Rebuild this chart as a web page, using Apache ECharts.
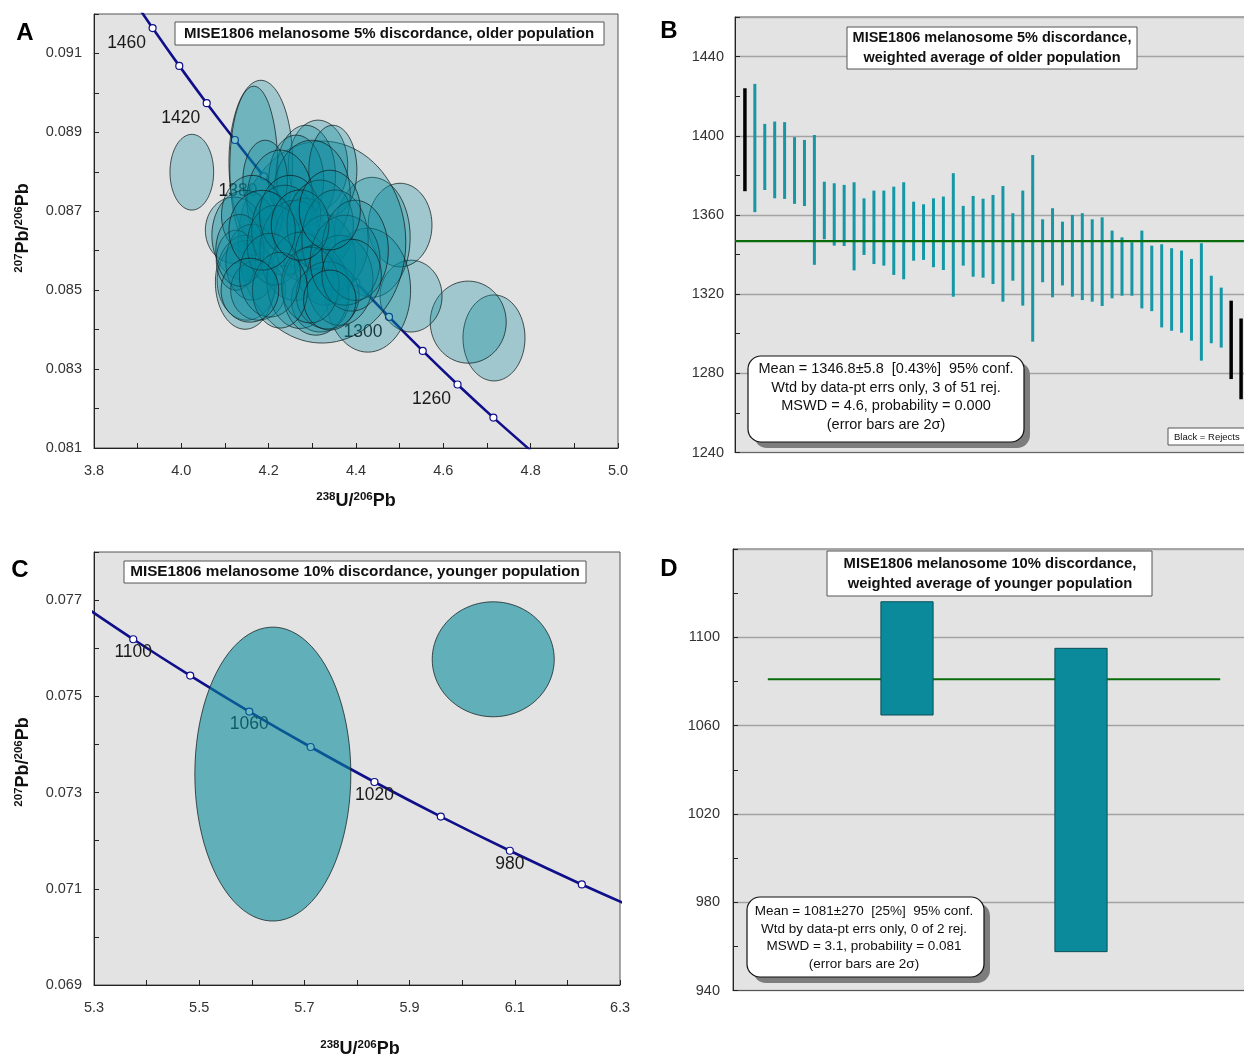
<!DOCTYPE html>
<html><head><meta charset="utf-8">
<script src="https://cdn.jsdelivr.net/npm/echarts@6/dist/echarts.min.js"></script>
<style>html,body{margin:0;padding:0;overflow:hidden;background:#fff}#c{width:1300px;height:1059px}</style>
</head><body><div id="c"></div>
<script>
// ---------- Panel A: concordia (ages, 238U/206Pb, 207Pb/206Pb) ----------
const concAAge = [1480,1460,1440,1420,1400,1380,1360,1340,1320,1300,1280,1260,1240,1220];
const concAX = [3.8748,3.9342,3.9953,4.0581,4.1227,4.1891,4.2576,4.3280,4.4007,4.4756,4.5528,4.6325,4.7147,4.7997];
const concAY = [0.092614,0.091643,0.090685,0.089740,0.088807,0.087886,0.086977,0.086080,0.085196,0.084323,0.083460,0.082609,0.081770,0.080940];
// Panel A ellipses: centre and half-axes (2 sigma)
const ellAX = [4.024,4.716,4.657,4.526,4.501,4.437,4.427,4.322,4.182,4.166,4.313,4.285,4.263,4.347,4.299,4.192,4.226,4.121,4.146,4.162,4.150,4.146,4.162,4.125,4.176,4.134,4.237,4.260,4.283,4.214,4.249,4.318,4.272,4.329,4.352,4.318,4.308,4.363,4.335,4.295,4.375,4.398,4.203,4.226,4.185,4.390,4.272,4.340,4.157,4.340];
const ellAY = [0.08799,0.08379,0.08419,0.08485,0.08665,0.08634,0.08500,0.08622,0.08824,0.08809,0.08817,0.08791,0.08779,0.08804,0.08741,0.08779,0.08728,0.08652,0.08639,0.08690,0.08525,0.08520,0.08571,0.08576,0.08500,0.08601,0.08652,0.08601,0.08627,0.08614,0.08690,0.08665,0.08525,0.08576,0.08627,0.08475,0.08500,0.08525,0.08487,0.08513,0.08576,0.08601,0.08538,0.08500,0.08652,0.08538,0.08665,0.08703,0.08500,0.08475];
const ellARx = [0.050,0.071,0.087,0.071,0.073,0.087,0.098,0.192,0.073,0.055,0.068,0.068,0.063,0.055,0.088,0.051,0.076,0.066,0.076,0.070,0.068,0.068,0.060,0.045,0.063,0.055,0.076,0.080,0.070,0.063,0.070,0.076,0.076,0.070,0.076,0.066,0.076,0.076,0.072,0.066,0.080,0.076,0.070,0.063,0.076,0.068,0.066,0.070,0.066,0.060];
const ellARy = [0.00096,0.00109,0.00104,0.00091,0.00106,0.00152,0.00157,0.00256,0.00208,0.00208,0.00114,0.00127,0.00114,0.00114,0.00139,0.00101,0.00127,0.00084,0.00114,0.00101,0.00101,0.00119,0.00096,0.00076,0.00076,0.00091,0.00114,0.00127,0.00106,0.00101,0.00101,0.00114,0.00122,0.00114,0.00127,0.00081,0.00114,0.00114,0.00085,0.00096,0.00114,0.00127,0.00106,0.00096,0.00101,0.00091,0.00089,0.00101,0.00081,0.00076];

// ---------- Panel B: weighted average, older population ----------
const bTop = [1424.0,1426.2,1406.0,1407.2,1406.9,1399.3,1397.9,1400.4,1376.8,1376.0,1375.2,1376.5,1368.4,1372.3,1372.3,1374.3,1376.5,1366.7,1365.4,1368.4,1369.3,1381.1,1364.6,1369.6,1368.2,1370.1,1374.6,1360.9,1372.3,1390.3,1357.8,1363.4,1356.6,1360.0,1360.9,1357.8,1358.8,1352.1,1348.7,1346.2,1352.1,1344.5,1345.2,1343.2,1342.0,1337.8,1345.7,1329.3,1323.3,1316.7,1307.7];
const bBot = [1372.0,1361.4,1372.6,1368.4,1368.1,1365.6,1364.5,1334.8,1347.7,1344.5,1344.3,1332.0,1339.8,1335.2,1334.4,1329.7,1327.5,1336.9,1337.3,1333.6,1332.2,1318.7,1334.4,1328.8,1328.3,1325.1,1316.2,1326.8,1314.2,1296.0,1326.0,1318.4,1324.4,1318.7,1317.0,1316.2,1314.0,1317.9,1319.2,1319.2,1312.8,1311.4,1303.2,1301.5,1300.5,1296.5,1286.4,1295.2,1293.0,1277.1,1266.9];
const bRejected = [1,50,51];
const bMean = 1346.8;

// ---------- Panel C: concordia + ellipses, younger population ----------
const concCAge = [1120,1100,1080,1060,1040,1020,1000,980,960,940];
const concCX = [5.2702,5.3746,5.4829,5.5952,5.7119,5.8332,5.9593,6.0906,6.2274,6.3700];
const concCY = [0.076954,0.076187,0.075431,0.074684,0.073947,0.073219,0.072500,0.071790,0.071090,0.070399];
const ellCX = [5.640,6.059];
const ellCY = [0.073384,0.075770];
const ellCRx = [0.1483,0.116];
const ellCRy = [0.003055,0.001195];

// ---------- Panel D: weighted average, younger population ----------
const dTop = [1116.1,1095.0];
const dBot = [1064.8,957.6];
const dMean = 1081;

const FONT = '"Liberation Sans", Arial, Helvetica, sans-serif';
const TEAL_B = '#1597a6', TEAL_D = '#0a8a9b', NAVY = '#0f0f8a', BG = '#e3e3e3';

function ellipseRender(fill){
  return function(params, api){
    const c = api.coord([api.value(0), api.value(1)]);
    const s = api.size([api.value(2), api.value(3)], [api.value(0), api.value(1)]);
    const pts = [];
    for (let i = 0; i < 90; i++) {
      const t = i / 90 * Math.PI * 2;
      pts.push([c[0] + s[0] * Math.cos(t), c[1] + s[1] * Math.sin(t)]);
    }
    return {type:'polygon', shape:{points:pts}, style:{fill:fill, stroke:'rgba(20,30,30,0.75)', lineWidth:1}};
  };
}

function concSeries(ax, ages, xs, ys, offset){
  return {
    type:'line', xAxisIndex:ax, yAxisIndex:ax, z:2, clip:true, smooth:0.3, animation:false,
    data: ages.map((a,i)=>({value:[xs[i], ys[i]], age:a, label:{show: a % 40 === 20}})),
    symbol:'circle', symbolSize:7, showSymbol:true,
    lineStyle:{color:NAVY, width:2.6},
    itemStyle:{color:'#fff', borderColor:NAVY, borderWidth:1.2},
    label:{show:true, position:'inside', offset:offset, formatter:p=>p.data.age, color:'#1a1a1a', fontSize:17.5, fontFamily:FONT},
    emphasis:{disabled:true}, silent:true
  };
}

const axisLbl = {color:'#333', fontSize:14.5, fontFamily:FONT};
const tickStyle = {inside:true, length:5, lineStyle:{color:'#222', width:1}};
const axLine = {show:true, lineStyle:{color:'#222', width:1}};

function evenTenth(v){ return Math.round(v*10) % 2 === 0 ? v.toFixed(1) : ''; }
function oddTenth(v){ return Math.round(v*10) % 2 === 1 ? v.toFixed(1) : ''; }
function oddThou(v){ return Math.round(v*1000) % 2 === 1 ? v.toFixed(3) : ''; }

const rich = {
  s:{fontSize:11.5, fontWeight:'bold', fontFamily:FONT, verticalAlign:'top', lineHeight:10, fill:'#111'},
  m:{fontSize:18, fontWeight:'bold', fontFamily:FONT, lineHeight:20, fill:'#111'}
};
function axisTitle(x, y, text, rot){
  return {type:'text', z:100, x:x, y:y, rotation:rot||0,
    style:{text:text, rich:rich, align:'center', verticalAlign:'middle'}};
}
function titleBox(x, y, w, h, lines, cx, ys, size){
  const els = [{type:'rect', z:100, shape:{x:x, y:y, width:w, height:h}, style:{fill:'#fff', stroke:'#555', lineWidth:1}}];
  lines.forEach((t,i)=>els.push({type:'text', z:101, style:{x:cx, y:ys[i], text:t, align:'center', verticalAlign:'middle', fill:'#111', font:'bold '+size+'px '+FONT}}));
  return els;
}
function statBox(x, y, w, h, lines, cx, ys, size){
  const els = [
    {type:'rect', z:100, shape:{x:x+6, y:y+6, width:w, height:h, r:13}, style:{fill:'#7d7d7d'}},
    {type:'rect', z:101, shape:{x:x, y:y, width:w, height:h, r:13}, style:{fill:'#fff', stroke:'#111', lineWidth:1.2}}
  ];
  lines.forEach((t,i)=>els.push({type:'text', z:102, style:{x:cx, y:ys[i], text:t, align:'center', verticalAlign:'middle', fill:'#111', font:size+'px '+FONT}}));
  return els;
}
function letter(x, y, t){
  return {type:'text', z:100, style:{x:x, y:y, text:t, align:'center', verticalAlign:'middle', fill:'#000', font:'bold 24px '+FONT}};
}

const gridBase = {show:true, backgroundColor:BG, borderColor:'#555', borderWidth:1, containLabel:false, outerBoundsMode:'none'};

const option = {
  animation:false,
  grid:[
    Object.assign({left:94, top:14, width:524, height:434}, gridBase),
    Object.assign({left:735, top:17, width:516, height:435.5}, gridBase),
    Object.assign({left:94, top:552, width:526, height:433}, gridBase),
    Object.assign({left:733, top:549, width:522, height:441.5}, gridBase)
  ],
  xAxis:[
    {gridIndex:0, type:'value', min:3.8, max:5.0, interval:0.1, axisLine:axLine, axisTick:tickStyle, splitLine:{show:false},
      axisLabel:Object.assign({margin:15, formatter:evenTenth, showMaxLabel:true, showMinLabel:true}, axisLbl)},
    {gridIndex:1, type:'value', min:0, max:52, axisLine:{show:true, lineStyle:{color:'#666'}}, axisTick:{show:false}, axisLabel:{show:false}, splitLine:{show:false}},
    {gridIndex:2, type:'value', min:5.3, max:6.3, interval:0.1, axisLine:axLine, axisTick:tickStyle, splitLine:{show:false},
      axisLabel:Object.assign({margin:15, formatter:oddTenth, showMaxLabel:true, showMinLabel:true}, axisLbl)},
    {gridIndex:3, type:'value', min:0, max:3, axisLine:{show:true, lineStyle:{color:'#555'}}, axisTick:{show:false}, axisLabel:{show:false}, splitLine:{show:false}}
  ],
  yAxis:[
    {gridIndex:0, type:'value', min:0.081, max:0.092, interval:0.001, axisLine:axLine, axisTick:tickStyle, splitLine:{show:false},
      axisLabel:Object.assign({margin:12, formatter:oddThou}, axisLbl)},
    {gridIndex:1, type:'value', min:1240, max:1460, interval:40, axisLine:axLine, axisTick:tickStyle,
      minorTick:{show:true, splitNumber:2, length:5, lineStyle:{color:'#222'}},
      splitLine:{show:true, lineStyle:{color:'#a3a3a3', width:1.3}},
      axisLabel:Object.assign({margin:11, formatter:v=>(v % 40 === 0 && v < 1460) ? String(v) : ''}, axisLbl)},
    {gridIndex:2, type:'value', min:0.069, max:0.078, interval:0.001, axisLine:axLine, axisTick:tickStyle, splitLine:{show:false},
      axisLabel:Object.assign({margin:12, formatter:oddThou}, axisLbl)},
    {gridIndex:3, type:'value', min:940, max:1140, interval:40, axisLine:axLine, axisTick:tickStyle,
      minorTick:{show:true, splitNumber:2, length:5, lineStyle:{color:'#222'}},
      splitLine:{show:true, lineStyle:{color:'#a3a3a3', width:1.3}},
      axisLabel:Object.assign({margin:13, formatter:v=>(v < 1140) ? String(v) : ''}, axisLbl)}
  ],
  series:[
    concSeries(0, concAAge, concAX, concAY, [-26,15]),
    {type:'custom', xAxisIndex:0, yAxisIndex:0, z:3, clip:true, silent:true,
      data: ellAX.map((x,i)=>[x, ellAY[i], ellARx[i], ellARy[i]]),
      renderItem: ellipseRender('rgba(4,137,155,0.30)')},
    {type:'custom', xAxisIndex:1, yAxisIndex:1, z:3, silent:true,
      data: bTop.map((t,i)=>[i+1, t, bBot[i], bRejected.indexOf(i+1) >= 0 ? 1 : 0]),
      renderItem:(p, api)=>{
        const a = api.coord([api.value(0), api.value(1)]);
        const b = api.coord([api.value(0), api.value(2)]);
        const rej = api.value(3) === 1;
        const w = rej ? 3.5 : 3;
        return {type:'rect', shape:{x:a[0]-w/2, y:a[1], width:w, height:b[1]-a[1]}, style:{fill: rej ? '#000' : TEAL_B}};
      }},
    {type:'line', xAxisIndex:1, yAxisIndex:1, z:4, symbol:'none', silent:true,
      data:[[0,bMean],[52,bMean]], lineStyle:{color:'#0a6b0a', width:2.2}},
    concSeries(2, concCAge, concCX, concCY, [0,13]),
    {type:'custom', xAxisIndex:2, yAxisIndex:2, z:3, clip:true, silent:true,
      data: ellCX.map((x,i)=>[x, ellCY[i], ellCRx[i], ellCRy[i]]),
      renderItem: ellipseRender('rgba(4,137,155,0.58)')},
    {type:'line', xAxisIndex:3, yAxisIndex:3, z:2, symbol:'none', silent:true,
      data:[[0.2,dMean],[2.8,dMean]], lineStyle:{color:'#0a6b0a', width:2.2}},
    {type:'custom', xAxisIndex:3, yAxisIndex:3, z:3, silent:true,
      data: dTop.map((t,i)=>[i+1, t, dBot[i]]),
      renderItem:(p, api)=>{
        const a = api.coord([api.value(0)-0.15, api.value(1)]);
        const b = api.coord([api.value(0)+0.15, api.value(2)]);
        return {type:'rect', shape:{x:a[0], y:a[1], width:b[0]-a[0], height:b[1]-a[1]}, style:{fill:TEAL_D, stroke:'#0b4f58', lineWidth:1}};
      }}
  ],
  graphic:[].concat(
    [letter(25,33,'A'), letter(669,31,'B'), letter(20,570,'C'), letter(669,569,'D')],
    titleBox(175,22,429,23,['MISE1806 melanosome 5% discordance, older population'],389,[34],15),
    titleBox(847,27,290,42,['MISE1806 melanosome 5% discordance,','weighted average of older population'],992,[38,58],14.5),
    titleBox(124,561,462,22,['MISE1806 melanosome 10% discordance, younger population'],355,[572],15.3),
    titleBox(827,551,325,45,['MISE1806 melanosome 10% discordance,','weighted average of younger population'],990,[564,584],14.8),
    statBox(748,356,276,86,['Mean = 1346.8\u00b15.8  [0.43%]  95% conf.','Wtd by data-pt errs only, 3 of 51 rej.','MSWD = 4.6, probability = 0.000','(error bars are 2\u03c3)'],886,[369,388,406,425],14.5),
    statBox(747,897,237,80,['Mean = 1081\u00b1270  [25%]  95% conf.','Wtd by data-pt errs only, 0 of 2 rej.','MSWD = 3.1, probability = 0.081','(error bars are 2\u03c3)'],864,[911,929,946,964],13.5),
    [
      {type:'rect', z:100, shape:{x:1168, y:428, width:90, height:17}, style:{fill:'#fff', stroke:'#555', lineWidth:1}},
      {type:'text', z:101, style:{x:1174, y:437, text:'Black = Rejects', align:'left', verticalAlign:'middle', fill:'#111', font:'9.5px '+FONT}},
      axisTitle(356,501,'{s|238}{m|U/}{s|206}{m|Pb}'),
      axisTitle(23,228,'{s|207}{m|Pb/}{s|206}{m|Pb}', Math.PI/2),
      axisTitle(360,1049,'{s|238}{m|U/}{s|206}{m|Pb}'),
      axisTitle(23,762,'{s|207}{m|Pb/}{s|206}{m|Pb}', Math.PI/2)
    ]
  )
};
const chart = echarts.init(document.getElementById('c'), null, {renderer:'canvas'});
chart.setOption(option);
</script>
</body></html>
